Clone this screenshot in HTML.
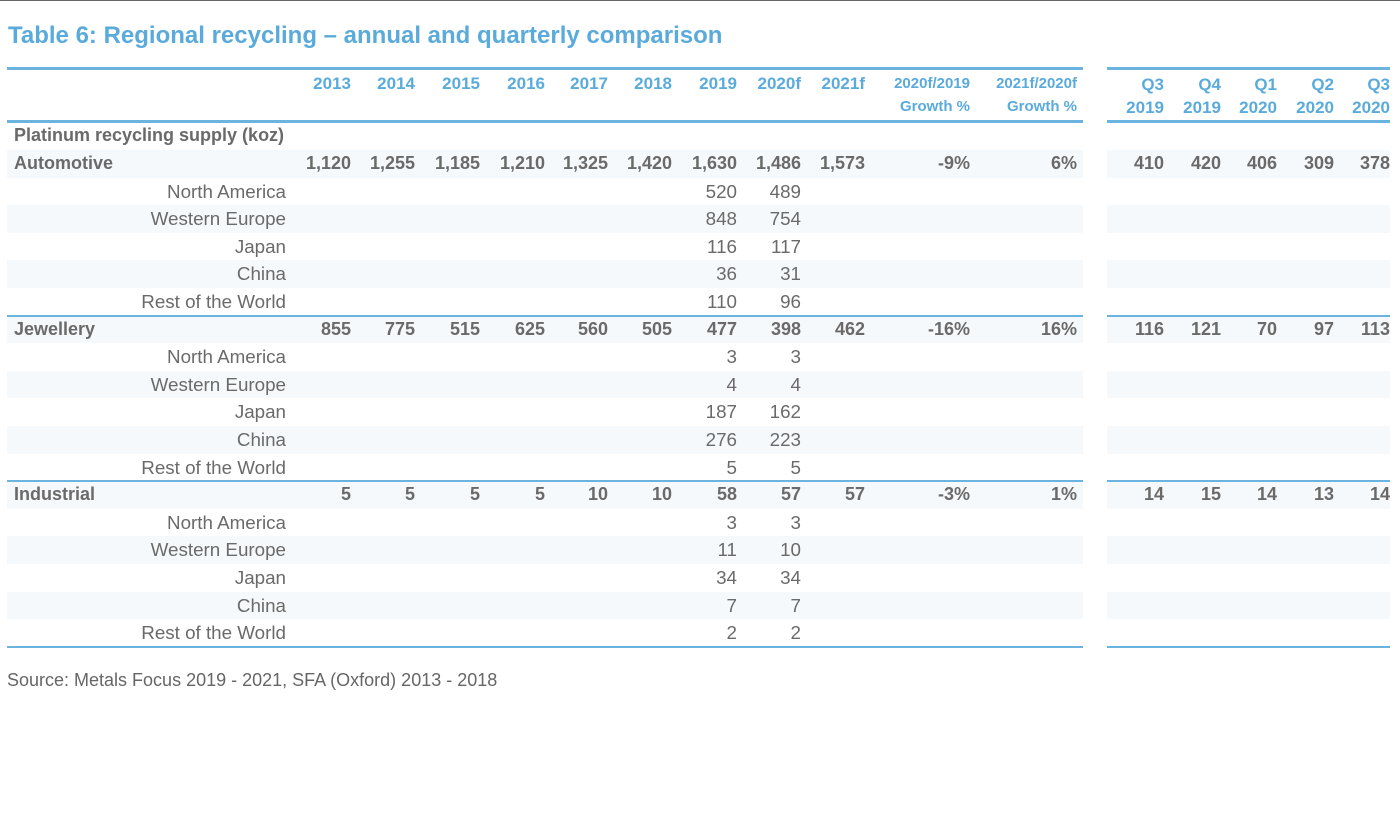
<!DOCTYPE html>
<html><head><meta charset="utf-8"><style>
body{margin:0;width:1400px;height:815px;background:#fff;position:relative;overflow:hidden;font-family:"Liberation Sans",Arial,sans-serif;color:#6a6a6a}
.top{position:absolute;left:0;top:0;width:1400px;height:1px;background:#666}
.title{position:absolute;left:8px;top:22px;font-size:24px;font-weight:bold;color:#5aabdc}
.hl{position:absolute;height:3px;background:#6bb4e0}
.row{position:absolute;left:0;width:1400px;height:27.6px;font-size:18px;line-height:27.6px}
.s1{position:absolute;left:7px;width:1076px;top:0;height:100%;background:#f6f9fc}
.s2{position:absolute;left:1107px;width:283px;top:0;height:100%;background:#f6f9fc}
.row span{position:absolute;white-space:nowrap}
.r{font-size:18.8px}
.b{font-weight:bold}
.hd{position:absolute;font-weight:bold;color:#5aabdc;font-size:17px;white-space:nowrap;text-align:right}
.src{position:absolute;left:7px;top:670px;font-size:18px;color:#666}
</style></head><body>
<div class="top"></div>
<div class="title">Table 6: Regional recycling – annual and quarterly comparison</div>
<div class="hl" style="left:7px;width:1076px;top:67px"></div>
<div class="hl" style="left:1107px;width:283px;top:67px"></div>
<div class="hl" style="left:7px;width:1076px;top:120px"></div>
<div class="hl" style="left:1107px;width:283px;top:120px"></div>
<div class="hd" style="right:1049px;top:74px">2013</div>
<div class="hd" style="right:985px;top:74px">2014</div>
<div class="hd" style="right:920px;top:74px">2015</div>
<div class="hd" style="right:855px;top:74px">2016</div>
<div class="hd" style="right:792px;top:74px">2017</div>
<div class="hd" style="right:728px;top:74px">2018</div>
<div class="hd" style="right:663px;top:74px">2019</div>
<div class="hd" style="right:599px;top:74px">2020f</div>
<div class="hd" style="right:535px;top:74px">2021f</div>
<div class="hd" style="right:430px;top:72px;font-size:15px;line-height:23px">2020f/2019<br>Growth %</div>
<div class="hd" style="right:323px;top:72px;font-size:15px;line-height:23px">2021f/2020f<br>Growth %</div>
<div class="hd" style="right:236px;top:73px;line-height:23px">Q3<br>2019</div>
<div class="hd" style="right:179px;top:73px;line-height:23px">Q4<br>2019</div>
<div class="hd" style="right:123px;top:73px;line-height:23px">Q1<br>2020</div>
<div class="hd" style="right:66px;top:73px;line-height:23px">Q2<br>2020</div>
<div class="hd" style="right:10px;top:73px;line-height:23px">Q3<br>2020</div>

<div class="row b" style="top:122px"><span style="left:14px">Platinum recycling supply (koz)</span></div>

<div class="row b" style="top:150px"><div class="s1"></div><div class="s2"></div><span style="left:14px">Automotive</span><span style="right:1049px">1,120</span><span style="right:985px">1,255</span><span style="right:920px">1,185</span><span style="right:855px">1,210</span><span style="right:792px">1,325</span><span style="right:728px">1,420</span><span style="right:663px">1,630</span><span style="right:599px">1,486</span><span style="right:535px">1,573</span><span style="right:430px">-9%</span><span style="right:323px">6%</span><span style="right:236px">410</span><span style="right:179px">420</span><span style="right:123px">406</span><span style="right:66px">309</span><span style="right:10px">378</span></div>
<div class="row r" style="top:177.6px"><span style="right:1114px">North America</span><span style="right:663px">520</span><span style="right:599px">489</span></div>
<div class="row r" style="top:205.2px"><div class="s1"></div><div class="s2"></div><span style="right:1114px">Western Europe</span><span style="right:663px">848</span><span style="right:599px">754</span></div>
<div class="row r" style="top:232.8px"><span style="right:1114px">Japan</span><span style="right:663px">116</span><span style="right:599px">117</span></div>
<div class="row r" style="top:260.4px"><div class="s1"></div><div class="s2"></div><span style="right:1114px">China</span><span style="right:663px">36</span><span style="right:599px">31</span></div>
<div class="row r" style="top:288px"><span style="right:1114px">Rest of the World</span><span style="right:663px">110</span><span style="right:599px">96</span></div>

<div class="row b" style="top:315.6px"><div class="s1"></div><div class="s2"></div><span style="left:14px">Jewellery</span><span style="right:1049px">855</span><span style="right:985px">775</span><span style="right:920px">515</span><span style="right:855px">625</span><span style="right:792px">560</span><span style="right:728px">505</span><span style="right:663px">477</span><span style="right:599px">398</span><span style="right:535px">462</span><span style="right:430px">-16%</span><span style="right:323px">16%</span><span style="right:236px">116</span><span style="right:179px">121</span><span style="right:123px">70</span><span style="right:66px">97</span><span style="right:10px">113</span></div>
<div class="row r" style="top:343.2px"><span style="right:1114px">North America</span><span style="right:663px">3</span><span style="right:599px">3</span></div>
<div class="row r" style="top:370.8px"><div class="s1"></div><div class="s2"></div><span style="right:1114px">Western Europe</span><span style="right:663px">4</span><span style="right:599px">4</span></div>
<div class="row r" style="top:398.4px"><span style="right:1114px">Japan</span><span style="right:663px">187</span><span style="right:599px">162</span></div>
<div class="row r" style="top:426px"><div class="s1"></div><div class="s2"></div><span style="right:1114px">China</span><span style="right:663px">276</span><span style="right:599px">223</span></div>
<div class="row r" style="top:453.6px"><span style="right:1114px">Rest of the World</span><span style="right:663px">5</span><span style="right:599px">5</span></div>

<div class="row b" style="top:481.2px"><div class="s1"></div><div class="s2"></div><span style="left:14px">Industrial</span><span style="right:1049px">5</span><span style="right:985px">5</span><span style="right:920px">5</span><span style="right:855px">5</span><span style="right:792px">10</span><span style="right:728px">10</span><span style="right:663px">58</span><span style="right:599px">57</span><span style="right:535px">57</span><span style="right:430px">-3%</span><span style="right:323px">1%</span><span style="right:236px">14</span><span style="right:179px">15</span><span style="right:123px">14</span><span style="right:66px">13</span><span style="right:10px">14</span></div>
<div class="row r" style="top:508.8px"><span style="right:1114px">North America</span><span style="right:663px">3</span><span style="right:599px">3</span></div>
<div class="row r" style="top:536.4px"><div class="s1"></div><div class="s2"></div><span style="right:1114px">Western Europe</span><span style="right:663px">11</span><span style="right:599px">10</span></div>
<div class="row r" style="top:564px"><span style="right:1114px">Japan</span><span style="right:663px">34</span><span style="right:599px">34</span></div>
<div class="row r" style="top:591.6px"><div class="s1"></div><div class="s2"></div><span style="right:1114px">China</span><span style="right:663px">7</span><span style="right:599px">7</span></div>
<div class="row r" style="top:619.2px"><span style="right:1114px">Rest of the World</span><span style="right:663px">2</span><span style="right:599px">2</span></div>

<div class="hl" style="left:7px;width:1076px;top:314.5px;height:2px"></div>
<div class="hl" style="left:1107px;width:283px;top:314.5px;height:2px"></div>
<div class="hl" style="left:7px;width:1076px;top:480px;height:2px"></div>
<div class="hl" style="left:1107px;width:283px;top:480px;height:2px"></div>
<div class="hl" style="left:7px;width:1076px;top:646px;height:2px"></div>
<div class="hl" style="left:1107px;width:283px;top:646px;height:2px"></div>

<div class="src">Source: Metals Focus 2019 - 2021, SFA (Oxford) 2013 - 2018</div>
</body></html>
